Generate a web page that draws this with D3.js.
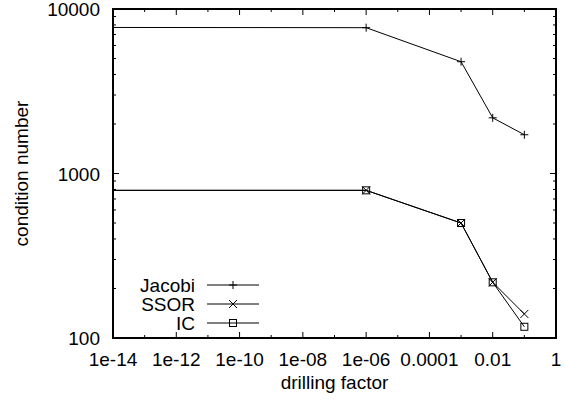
<!DOCTYPE html>
<html><head><meta charset="utf-8">
<script src="https://cdn.jsdelivr.net/npm/d3@7"></script>
<style>body{margin:0;background:#fff}text{font-family:"Liberation Sans",Arial,sans-serif;fill:#000}</style>
</head><body>
<svg id="c" width="565" height="407"></svg>
<script>
// data
const drilling = [1e-20, 1e-6, 1e-3, 1e-2, 1e-1];
const jacobi = [7740, 7700, 4780, 2180, 1720];
const ssor = [790, 790, 500, 218, 140];
const ic = [790, 790, 500, 218, 117];
const seriesNames = ["Jacobi", "SSOR", "IC"];
const xTickValues = [1e-14, 1e-12, 1e-10, 1e-8, 1e-6, 1e-4, 1e-2, 1];
const xTickLabels = ["1e-14", "1e-12", "1e-10", "1e-08", "1e-06", "0.0001", "0.01", "1"];
const yTickValues = [100, 1000, 10000];
const yTickLabels = ["100", "1000", "10000"];

const L = 113, R = 556, T = 9, B = 338, FS = 19;
const svg = d3.select("#c");
const x = d3.scaleLog().domain([1e-14, 1]).range([L, R]);
const y = d3.scaleLog().domain([100, 10000]).range([B, T]);

svg.append("defs").append("clipPath").attr("id", "clip")
  .append("rect").attr("x", L).attr("y", T).attr("width", R - L).attr("height", B - T);

// ticks
const tickG = svg.append("g").attr("stroke", "#000").attr("stroke-width", 1);
const xMinor = d3.range(-13, 0, 2).map(e => Math.pow(10, e));
xTickValues.forEach(v => {
  tickG.append("line").attr("x1", x(v)).attr("x2", x(v)).attr("y1", B).attr("y2", B - 6);
  tickG.append("line").attr("x1", x(v)).attr("x2", x(v)).attr("y1", T).attr("y2", T + 6);
});
xMinor.forEach(v => {
  tickG.append("line").attr("x1", x(v)).attr("x2", x(v)).attr("y1", B).attr("y2", B - 3);
  tickG.append("line").attr("x1", x(v)).attr("x2", x(v)).attr("y1", T).attr("y2", T + 3);
});
const yMinor = [];
[100, 1000].forEach(d => { for (let k = 2; k <= 9; k++) yMinor.push(d * k); });
yTickValues.forEach(v => {
  tickG.append("line").attr("x1", L).attr("x2", L + 6).attr("y1", y(v)).attr("y2", y(v));
  tickG.append("line").attr("x1", R).attr("x2", R - 6).attr("y1", y(v)).attr("y2", y(v));
});
yMinor.forEach(v => {
  tickG.append("line").attr("x1", L).attr("x2", L + 3).attr("y1", y(v)).attr("y2", y(v));
  tickG.append("line").attr("x1", R).attr("x2", R - 3).attr("y1", y(v)).attr("y2", y(v));
});

// tick labels
xTickValues.forEach((v, i) => {
  svg.append("text").attr("x", x(v)).attr("y", 366).attr("text-anchor", "middle")
    .attr("font-size", FS).text(xTickLabels[i]);
});
yTickValues.forEach((v, i) => {
  svg.append("text").attr("x", 100).attr("y", y(v) + 7).attr("text-anchor", "end")
    .attr("font-size", FS).text(yTickLabels[i]);
});

// axis titles
svg.append("text").attr("x", (L + R) / 2).attr("y", 389).attr("text-anchor", "middle")
  .attr("font-size", FS).text("drilling factor");
svg.append("text").attr("transform", `translate(28,${(T + B) / 2}) rotate(-90)`)
  .attr("text-anchor", "middle").attr("font-size", FS).text("condition number");

// markers
function marker(g, type, cx, cy) {
  if (type === 0) {
    g.append("path").attr("d", `M${cx-4},${cy}H${cx+4}M${cx},${cy-4}V${cy+4}`);
  } else if (type === 1) {
    g.append("path").attr("d", `M${cx-4},${cy-4}L${cx+4},${cy+4}M${cx-4},${cy+4}L${cx+4},${cy-4}`);
  } else {
    g.append("rect").attr("x", cx - 3.5).attr("y", cy - 3.5).attr("width", 7).attr("height", 7).attr("fill", "none");
  }
}

const all = [jacobi, ssor, ic];
const line = d3.line().x(d => x(d[0])).y(d => y(d[1]));
const plotG = svg.append("g").attr("clip-path", "url(#clip)");
all.forEach((vals, s) => {
  const pts = drilling.map((d, i) => [d, vals[i]]);
  plotG.append("path").attr("d", line(pts)).attr("fill", "none").attr("stroke", "#000").attr("stroke-width", 1);
  const mg = plotG.append("g").attr("stroke", "#000").attr("stroke-width", 1).attr("fill", "none");
  pts.forEach(p => { if (p[0] >= 1e-14) marker(mg, s, x(p[0]), y(p[1])); });
});

// legend
const legY = [285, 304, 323];
seriesNames.forEach((n, s) => {
  svg.append("text").attr("x", 195).attr("y", legY[s] + 7).attr("text-anchor", "end")
    .attr("font-size", FS).text(n);
  const lg = svg.append("g").attr("stroke", "#000").attr("stroke-width", 1).attr("fill", "none");
  lg.append("line").attr("x1", 207).attr("x2", 259).attr("y1", legY[s]).attr("y2", legY[s]);
  marker(lg, s, 233, legY[s]);
});

// frame
svg.append("rect").attr("x", L).attr("y", T).attr("width", R - L).attr("height", B - T)
  .attr("fill", "none").attr("stroke", "#000").attr("stroke-width", 2);
</script>
</body></html>
